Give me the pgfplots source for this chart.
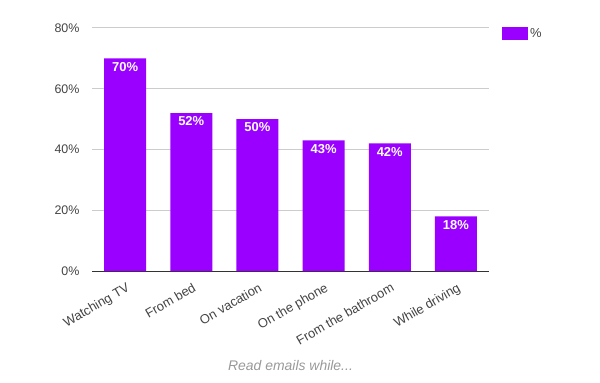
\documentclass[border=0pt]{standalone}
\usepackage{pgfplots}
\pgfplotsset{compat=1.18}
\usepackage{fontspec}
\setmainfont{Liberation Sans}
\definecolor{barpurple}{HTML}{9900FF}
\definecolor{ticktext}{HTML}{444444}
\definecolor{gridc}{HTML}{CCCCCC}
\definecolor{basec}{HTML}{333333}
\definecolor{titlec}{HTML}{999999}
\begin{document}
\begin{tikzpicture}[x=1bp,y=1bp]
\useasboundingbox (0,0) rectangle (600,382);
\begin{axis}[
  at={(92bp,111bp)}, anchor=south west,
  scale only axis, width=397bp, height=243bp,
  xmin=-0.5, xmax=5.5, ymin=0, ymax=80,
  ybar, bar width=42bp,
  xtick={0,1,2,3,4,5},
  xticklabels={Watching TV, From bed, On vacation, On the phone, From the bathroom, While driving},
  x tick label style={rotate=30, anchor=north east, font=\fontsize{13}{15}\selectfont, text=ticktext, inner sep=0pt, yshift=-10bp, xshift=-5bp},
  ytick={0,20,40,60,80},
  yticklabel={\pgfmathprintnumber{\tick}\%},
  y tick label style={font=\fontsize{12.5}{14}\selectfont, text=ticktext, xshift=-9bp},
  /pgf/number format/assume math mode=true,
  ymajorgrids, grid style={gridc, line width=1bp},
  axis line style={draw=none},
  major tick length=0pt,
  extra y ticks={0}, extra y tick labels={},
  extra y tick style={grid style={basec, line width=1bp}},
  nodes near coords={\pgfmathprintnumber{\pgfplotspointmeta}\%},
  nodes near coords style={anchor=north, text=white, font=\bfseries\fontsize{13}{15}\selectfont, inner sep=3.5bp},
  legend style={at={(1,1)}, anchor=north west, xshift=13bp, yshift=2bp, draw=none, inner sep=0pt, font=\fontsize{13}{15}\selectfont, text=ticktext},
  legend cell align=left,
]
\addplot[fill=barpurple, draw=none,
  legend image code/.code={\fill[barpurple] (0bp,-6.5bp) rectangle (26bp,6.5bp);}]
  coordinates {(0,70) (1,52) (2,50) (3,43) (4,42) (5,18)};
\addlegendentry{\%}
\end{axis}
\node[font=\itshape\fontsize{14}{16}\selectfont, text=titlec] at (290.5,16) {Read emails while...};
\end{tikzpicture}
\end{document}
